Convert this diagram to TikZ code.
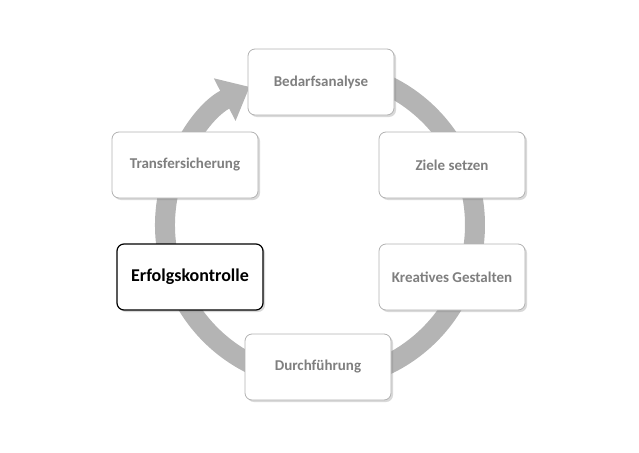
\documentclass[tikz,border=0pt]{standalone}
\usepackage{fontspec}
\setmainfont{Carlito}
\usetikzlibrary{arrows.meta,shadows}
\definecolor{ringgray}{HTML}{B4B4B4}
\definecolor{txtgray}{HTML}{7F7F7F}
\begin{document}
\begin{tikzpicture}[x=1pt,y=-1pt,
  box/.style={draw=gray!60,line width=0.8pt,rounded corners=7pt,fill=white,minimum width=146pt,minimum height=66pt,
    font=\fontsize{15}{17}\selectfont\bfseries,text=txtgray,
    drop shadow={shadow xshift=2pt,shadow yshift=-2pt,opacity=0.3}}]
\useasboundingbox (0,0) rectangle (639,452);
\coordinate (s) at (333.5,70.6);
\draw[ringgray,line width=20pt,-{Triangle[length=28pt,width=46pt]}]
  (s) arc[start angle=-85,end angle=243,radius=155];
\node[box] (b) at (321,82) {Bedarfsanalyse};
\node[box] (z) at (452,165) {Ziele setzen};
\node[box] (k) at (452,277) {Kreatives Gestalten};
\node[box] (d) at (318,367) {Durchführung};
\node[box,draw=black,line width=1.2pt,text=black,font=\fontsize{18}{20}\selectfont\bfseries] (e) at (190,277) {Erfolgskontrolle};
\node[box] (t) at (185,165) {Transfersicherung};
\end{tikzpicture}
\end{document}
